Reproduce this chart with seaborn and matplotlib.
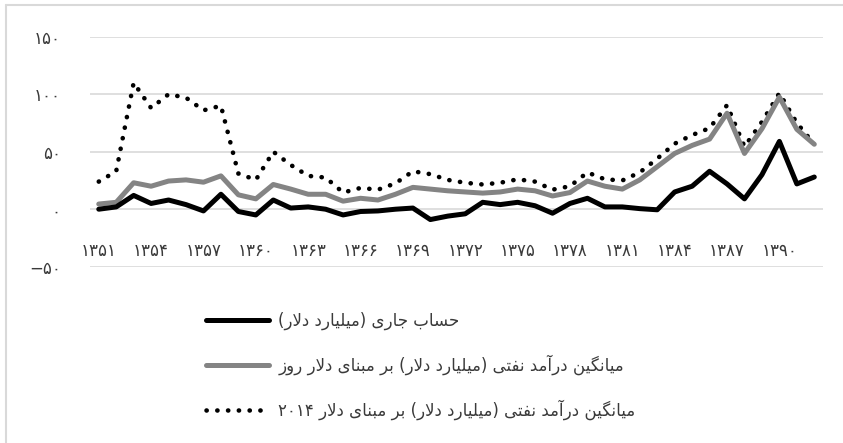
import numpy as np
import pandas as pd
import matplotlib
matplotlib.use("Agg")
import matplotlib.pyplot as plt
import seaborn as sns
from matplotlib.lines import Line2D

# data (billion dollars)
YEARS = list(range(1351, 1393))
current_account = [0, 2, 12, 5, 8, 4, -1.5, 13, -2, -5,
                   8, 1, 2, 0, -5, -2, -1.5, 0, 1, -9,
                   -6, -4, 6, 4, 6, 3, -3.5, 5, 9.5, 2,
                   2, 0.5, -0.5, 15, 20, 33, 22, 9, 30, 59,
                   22, 28]
oil_nominal = [4.5, 6, 23, 20, 24.5, 25.5, 23.5, 29, 12.5, 9,
               21.5, 17.5, 13, 13, 7, 9.5, 8, 13, 19, 17.5,
               16, 15, 14, 15, 17.5, 16, 11.5, 14.5, 24.5, 20,
               17.5, 25.5, 37, 48.5, 55.5, 61, 83.5, 48.5, 70, 97.5,
               69.5, 56.5]
oil_2014 = [24, 33, 110, 88, 100, 97, 86, 90, 31, 25.5,
            50, 38.5, 29, 27.5, 14.5, 18.5, 17, 22.5, 33, 30.5,
            25.5, 23, 21.5, 23, 26, 24, 17, 20, 32, 26,
            25, 32, 44, 57, 64.5, 70.5, 90.5, 54.5, 76, 101,
            75, 56.5]

Y_TICKS = [-50, 0, 50, 100, 150]
LABELS = ["حساب جاری (میلیارد دلار)",
          "میانگین درآمد نفتی (میلیارد دلار) بر مبنای دلار روز",
          "میانگین درآمد نفتی (میلیارد دلار) بر مبنای دلار ۲۰۱۴"]

FA_DIGITS = str.maketrans("0123456789-", "۰۱۲۳۴۵۶۷۸۹−")

# minimal Persian shaping: (isolated, final, initial, medial)
FORMS = {
    "ا": ("\uFE8D", "\uFE8E"), "آ": ("\uFE81", "\uFE82"),
    "د": ("\uFEA9", "\uFEAA"), "ر": ("\uFEAD", "\uFEAE"),
    "ز": ("\uFEAF", "\uFEB0"), "و": ("\uFEED", "\uFEEE"),
    "ب": ("\uFE8F", "\uFE90", "\uFE91", "\uFE92"),
    "ت": ("\uFE95", "\uFE96", "\uFE97", "\uFE98"),
    "ج": ("\uFE9D", "\uFE9E", "\uFE9F", "\uFEA0"),
    "ح": ("\uFEA1", "\uFEA2", "\uFEA3", "\uFEA4"),
    "س": ("\uFEB1", "\uFEB2", "\uFEB3", "\uFEB4"),
    "ف": ("\uFED1", "\uFED2", "\uFED3", "\uFED4"),
    "ل": ("\uFEDD", "\uFEDE", "\uFEDF", "\uFEE0"),
    "م": ("\uFEE1", "\uFEE2", "\uFEE3", "\uFEE4"),
    "ن": ("\uFEE5", "\uFEE6", "\uFEE7", "\uFEE8"),
    "ی": ("\uFBFC", "\uFBFD", "\uFBFE", "\uFBFF"),
    "گ": ("\uFB92", "\uFB93", "\uFB94", "\uFB95"),
}
LAM_ALEF = ("\uFEFB", "\uFEFC")


def shape(text):
    chars = list(text)
    out = []
    i = 0
    while i < len(chars):
        c = chars[i]
        if c not in FORMS:
            out.append(c)
            i += 1
            continue
        prev = chars[i - 1] if i > 0 else ""
        joins_prev = prev in FORMS and len(FORMS[prev]) == 4
        if c == "ل" and i + 1 < len(chars) and chars[i + 1] == "ا":
            out.append(LAM_ALEF[1 if joins_prev else 0])
            i += 2
            continue
        nxt = chars[i + 1] if i + 1 < len(chars) else ""
        joins_next = len(FORMS[c]) == 4 and nxt in FORMS
        f = FORMS[c]
        if joins_prev and joins_next:
            out.append(f[3])
        elif joins_prev:
            out.append(f[1])
        elif joins_next:
            out.append(f[2])
        else:
            out.append(f[0])
        i += 1
    # visual order: reverse, keep digit runs LTR, mirror brackets
    runs, cur, cur_digit = [], "", None
    for ch in out:
        d = ch in "۰۱۲۳۴۵۶۷۸۹"
        if cur and d != cur_digit:
            runs.append((cur, cur_digit))
            cur = ""
        cur += ch
        cur_digit = d
    if cur:
        runs.append((cur, cur_digit))
    mirror = str.maketrans("()", ")(")
    vis = ""
    for run, d in reversed(runs):
        vis += run if d else run[::-1].translate(mirror)
    return vis


df = pd.DataFrame({"idx": np.arange(len(YEARS)),
                   "ca": current_account,
                   "oil": oil_nominal,
                   "oil14": oil_2014})

sns.set_style("white")
plt.rcParams["font.family"] = ["DejaVu Sans"]

TXT = "#3a3a3a"
DOTS = (0, (0.05, 2.3))

fig = plt.figure(figsize=(8.43, 4.43), dpi=100)
ax = fig.add_axes([0.1068, 0.398, 0.8695, 0.519])

for y in Y_TICKS:
    ax.axhline(y, color="#d9d9d9", lw=1.2, zorder=0)

sns.lineplot(data=df, x="idx", y="oil14", ax=ax, color="black", lw=3.3,
             linestyle=DOTS, dash_capstyle="round",
             solid_joinstyle="round")
sns.lineplot(data=df, x="idx", y="oil", ax=ax, color="#848484", lw=3.6,
             solid_joinstyle="round", solid_capstyle="round")
sns.lineplot(data=df, x="idx", y="ca", ax=ax, color="black", lw=3.6,
             solid_joinstyle="round", solid_capstyle="round")

ax.set_xlim(-0.5, len(YEARS) - 0.5)
ax.set_ylim(-50, 150)
ax.set_yticks(Y_TICKS)
ax.set_yticklabels([str(v).translate(FA_DIGITS) for v in Y_TICKS],
                   fontsize=12, color=TXT)
ax.tick_params(axis="y", length=0, pad=21)
ax.set_xticks([])
ax.set_xlabel("")
ax.set_ylabel("")
for s in ax.spines.values():
    s.set_visible(False)

for i, yr in enumerate(YEARS):
    if i % 3 == 0:
        ax.text(i, -36, str(yr).translate(FA_DIGITS), ha="center",
                va="center", fontsize=12, color=TXT)

handles = [
    Line2D([], [], color="black", lw=3.6, solid_capstyle="round"),
    Line2D([], [], color="#848484", lw=3.6, solid_capstyle="round"),
    Line2D([], [], color="black", lw=3.3, linestyle=DOTS,
           dash_capstyle="round"),
]
fig.legend(handles, [shape(t) for t in LABELS], loc="center left",
           bbox_to_anchor=(0.244, 0.174), frameon=False, fontsize=12,
           handlelength=3.8, handletextpad=0.55, labelspacing=1.45,
           borderpad=0, borderaxespad=0, labelcolor=TXT)

# light outer frame (top and left edges only)
fig.add_artist(Line2D([6 / 843, 1], [1 - 5 / 443, 1 - 5 / 443],
                      transform=fig.transFigure, color="#d9d9d9", lw=1.5))
fig.add_artist(Line2D([6 / 843, 6 / 843], [0, 1 - 5 / 443],
                      transform=fig.transFigure, color="#d9d9d9", lw=1.5))

fig.savefig("out.png", dpi=100)
